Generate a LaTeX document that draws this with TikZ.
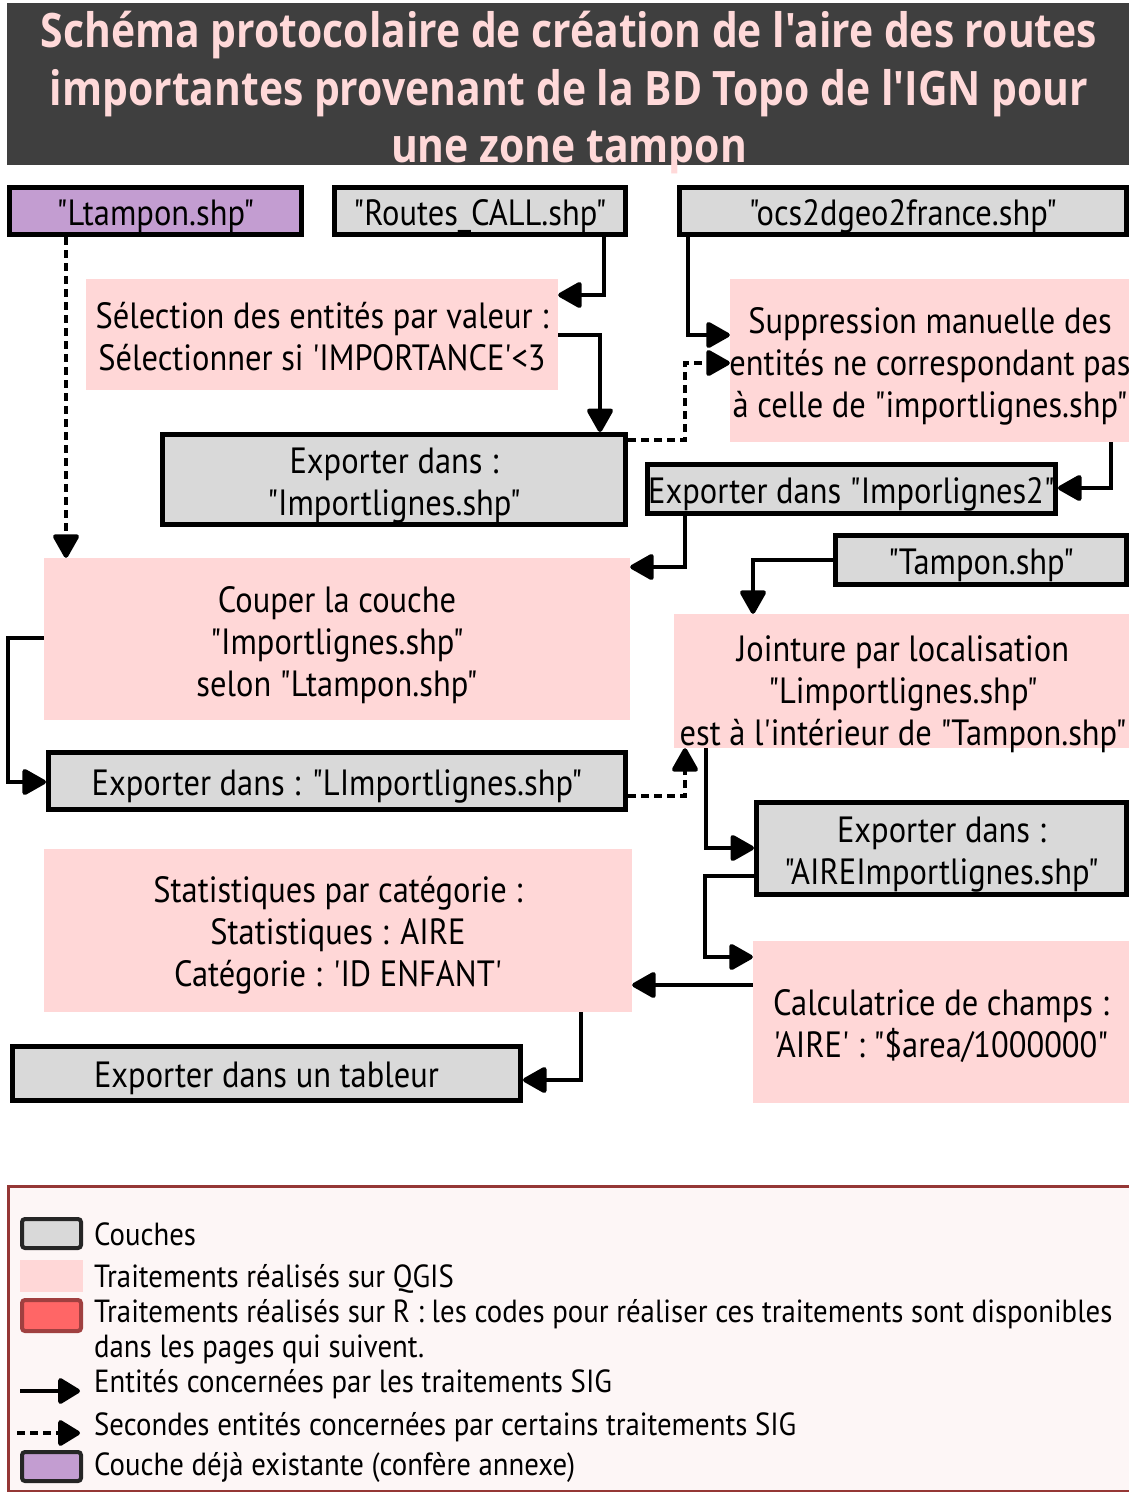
\documentclass[tikz,border=0pt]{standalone}
\usepackage{fontspec}
\usetikzlibrary{arrows.meta}
\newfontfamily\bodyfont[FakeStretch=0.89]{PT Sans}
\newfontfamily\legfont[FakeStretch=0.9]{PT Sans}
\newfontfamily\titlefont[FakeStretch=0.86]{Open Sans}
\newcommand\bodyfs{\bodyfont\fontsize{36.5}{42}\selectfont}
\newcommand\legfs{\legfont\fontsize{32}{35}\selectfont}
\newcommand\titlefs{\titlefont\bfseries\fontsize{47.5}{58}\selectfont}
\newcommand\vstrut{\rule[-8pt]{0pt}{44pt}}
\definecolor{layergray}{HTML}{D9D9D9}
\definecolor{qgispink}{HTML}{FFD7D7}
\definecolor{existpurple}{HTML}{C39DD1}
\definecolor{titlebg}{HTML}{3F3F3F}
\definecolor{titlefg}{HTML}{FFD9D9}
\definecolor{legborder}{HTML}{953735}
\definecolor{legfill}{HTML}{FDF6F6}
\definecolor{rred}{HTML}{FF6666}
\definecolor{rredborder}{HTML}{A04040}
\begin{document}
\begin{tikzpicture}[x=1pt,y=-1pt,
  strutted/.style={execute at begin node=\vstrut, execute at end node=\vstrut},
  layer/.style={draw=black, line width=5pt, fill=layergray, inner sep=0pt, font=\bodyfs, align=center, strutted},
  treat/.style={fill=qgispink, inner sep=0pt, font=\bodyfs, align=center, strutted},
  txt/.style={inner sep=0pt, font=\bodyfs, align=center},
  sline/.style={line width=4.5pt, -{Triangle[length=26pt,width=28pt,round]}},
  dline/.style={sline, dash pattern=on 8pt off 5pt},
  legtxt/.style={inner sep=0pt, font=\legfs, anchor=base west},
  ttl/.style={inner sep=0pt, font=\titlefs, text=titlefg, anchor=base},
]
\useasboundingbox (0,0) rectangle (1129,1492);
% title banner
\node[fill=titlebg, minimum width=1122pt, minimum height=162pt, inner sep=0pt] (banner) at (568,84) {};
\node[ttl] (t1) at (569,47) {Schéma protocolaire de création de l'aire des routes};
\node[ttl] (t2) at (569,105) {importantes provenant de la BD Topo de l'IGN pour};
\node[ttl] (t3) at (569,162) {une zone tampon};

% layers and treatments (single-line texts inside, multi-line texts as separate nodes)
\node[layer, fill=existpurple, minimum width=292pt, minimum height=47pt] (lt) at (155.5,211) {"Ltampon.shp"};
\node[layer, minimum width=291pt, minimum height=47pt] (rc) at (480,211) {"Routes\_CALL.shp"};
\node[layer, minimum width=447pt, minimum height=47pt] (ocs) at (903,211) {"ocs2dgeo2france.shp"};
\node[treat, minimum width=472pt, minimum height=111pt] (sel) at (322,334.5) {};
\node[txt] (selt) at (322,336.5) {Sélection des entités par valeur :\\Sélectionner si 'IMPORTANCE'<3};
\node[layer, minimum width=463pt, minimum height=90pt] (exp1) at (394,479.5) {};
\node[txt] (exp1t) at (394,485.5) {Exporter dans :\\"Importlignes.shp"};
\node[treat, minimum width=399pt, minimum height=163pt] (sup) at (929.5,360.5) {};
\node[txt] (supt) at (930,366) {Suppression manuelle des\\entités ne correspondant pas\\à celle de "importlignes.shp"};
\node[layer, minimum width=408pt, minimum height=49pt] (exp2) at (851.5,489) {Exporter dans "Imporlignes2"};
\node[layer, minimum width=291pt, minimum height=49pt] (tam) at (981,560) {"Tampon.shp"};
\node[treat, minimum width=586pt, minimum height=162pt] (cou) at (337,639) {};
\node[txt] (cout) at (337,645) {Couper la couche\\"Importlignes.shp"\\selon "Ltampon.shp"};
\node[treat, minimum width=455pt, minimum height=134pt] (joi) at (901.5,681) {};
\node[txt] (joit) at (903,694) {Jointure par localisation\\"Limportlignes.shp"\\est à l'intérieur de "Tampon.shp"};
\node[layer, minimum width=577pt, minimum height=57pt] (ela) at (337,781) {Exporter dans : "LImportlignes.shp"};
\node[layer, minimum width=370pt, minimum height=92pt] (aire) at (941.5,848.5) {};
\node[txt] (airet) at (941.5,854.5) {Exporter dans :\\"AIREImportlignes.shp"};
\node[treat, minimum width=376pt, minimum height=162pt] (cal) at (941,1022) {};
\node[txt] (calt) at (941,1026) {Calculatrice de champs :\\'AIRE' : "\$area/1000000"};
\node[treat, minimum width=588pt, minimum height=163pt] (sta) at (338,930.5) {};
\node[txt] (stat) at (338,935.5) {Statistiques par catégorie :\\Statistiques : AIRE\\Catégorie : 'ID ENFANT'};
\node[layer, minimum width=508pt, minimum height=54pt] (tab) at (266.5,1073.5) {Exporter dans un tableur};

% connectors
\draw[dline] (lt.south -| 66,0) -- (cou.north -| 66,0);
\draw[sline] (rc.south -| 604,0) |- (sel.east |- 0,295);
\draw[sline] (sel.east |- 0,335) -| (exp1.north -| 600,0);
\draw[sline] (ocs.south -| 688,0) |- (sup.west |- 0,335);
\draw[dline] (exp1.east |- 0,440) -| (685,400) |- (sup.west |- 0,363);
\draw[sline] (sup.south -| 1111,0) |- (exp2.east |- 0,488);
\draw[sline] (exp2.south -| 685,0) |- (cou.east |- 0,567);
\draw[sline] (tam.west |- 0,560) -| (joi.north -| 753,0);
\draw[sline] (cou.west |- 0,638) -| (8,700) |- (ela.west |- 0,782);
\draw[dline] (ela.east |- 0,796) -| (joi.south -| 685,0);
\draw[sline] (joi.south -| 706,0) |- (aire.west |- 0,848);
\draw[sline] (aire.west |- 0,876) -| (705,900) |- (cal.west |- 0,957);
\draw[sline] (cal.west |- 0,985) -- (sta.east |- 0,985);
\draw[sline] (sta.south -| 581,0) |- (tab.east |- 0,1080);

% legend
\node[draw=legborder, line width=3pt, fill=legfill, minimum width=1124pt, minimum height=305pt, inner sep=0pt] (legend) at (570,1338.5) {};
\node[draw=black!85, line width=4pt, fill=layergray, rounded corners=3pt, minimum width=59pt, minimum height=29pt, inner sep=0pt] (lg1) at (51.5,1233.5) {};
\node[fill=qgispink, minimum width=63pt, minimum height=32pt, inner sep=0pt] (lg2) at (51.5,1276) {};
\node[draw=rredborder, line width=4pt, fill=rred, rounded corners=3pt, minimum width=59pt, minimum height=31pt, inner sep=0pt] (lg3) at (51.5,1315.5) {};
\node[draw=black!85, line width=4pt, fill=existpurple, rounded corners=3pt, minimum width=59pt, minimum height=29pt, inner sep=0pt] (lg6) at (51.5,1466.5) {};
\coordinate (a1s) at (20,1391);
\coordinate (a1e) at (80,1391);
\coordinate (a2s) at (17,1433);
\coordinate (a2e) at (80,1433);
\draw[sline, -{Triangle[length=24pt,width=28pt,round]}] (a1s) -- (a1e);
\draw[dline, -{Triangle[length=24pt,width=28pt,round]}] (a2s) -- (a2e);
\node[legtxt] (l1) at (94,1245) {Couches};
\node[legtxt] (l2) at (94,1287) {Traitements réalisés sur QGIS};
\node[legtxt] (l3) at (94,1322) {Traitements réalisés sur R : les codes pour réaliser ces traitements sont disponibles};
\node[legtxt] (l3b) at (94,1357) {dans les pages qui suivent.};
\node[legtxt] (l4) at (94,1392) {Entités concernées par les traitements SIG};
\node[legtxt] (l5) at (94,1435) {Secondes entités concernées par certains traitements SIG};
\node[legtxt] (l6) at (94,1475) {Couche déjà existante (confère annexe)};
\end{tikzpicture}
\end{document}
